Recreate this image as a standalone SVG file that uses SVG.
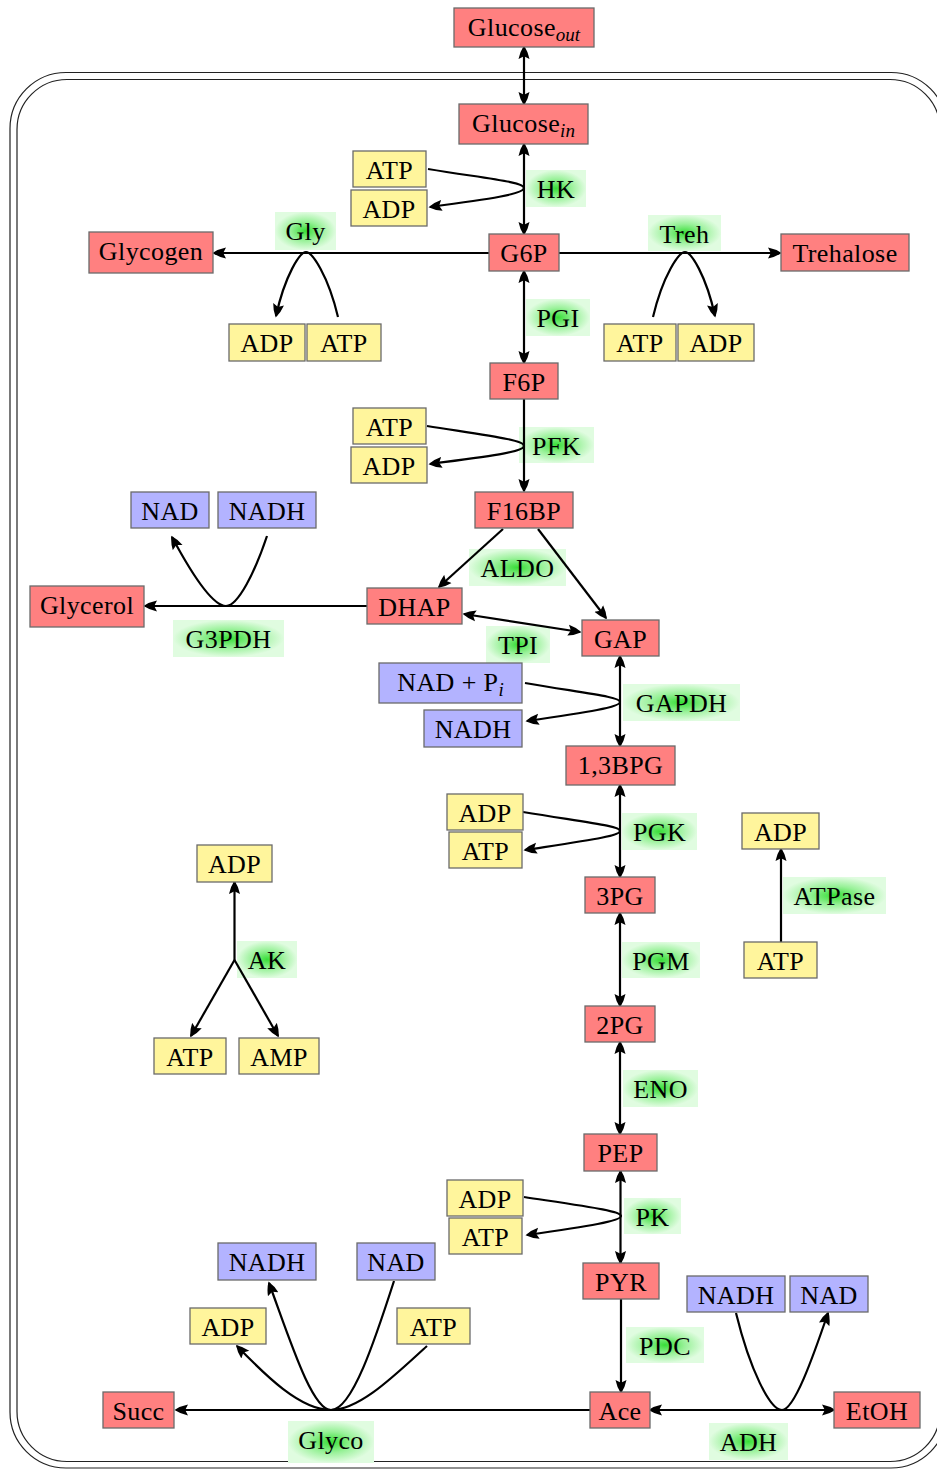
<svg xmlns="http://www.w3.org/2000/svg" width="937" height="1469" viewBox="0 0 937 1469">
<defs>
<radialGradient id="eg" cx="50%" cy="50%" r="50%">
<stop offset="0" stop-color="#38de38"/>
<stop offset="0.5" stop-color="#98f198"/>
<stop offset="1" stop-color="#e0fce0"/>
</radialGradient>
<marker id="ah" markerUnits="userSpaceOnUse" markerWidth="15" markerHeight="12" refX="12" refY="6" orient="auto-start-reverse" viewBox="0 0 15 12">
<path d="M0,0.5 Q7,1.8 13.5,6 Q7,10.2 0,11.5 L2.8,6 Z" fill="#000"/>
</marker>
</defs>
<style>
text{font-family:"Liberation Serif","Times New Roman",serif;font-size:26px;fill:#000;text-anchor:middle;letter-spacing:0.4px}
.r{fill:#ff8080;stroke:#6a6a6a;stroke-width:1.3}
.y{fill:#fff59c;stroke:#6a6a6a;stroke-width:1.3}
.b{fill:#b3b3ff;stroke:#6a6a6a;stroke-width:1.3}
.e{fill:url(#eg);stroke:none}
.c path{fill:none;stroke:#000;stroke-width:2.2}
.a2{marker-start:url(#ah);marker-end:url(#ah)}
.a1{marker-end:url(#ah)}
.sub{font-size:19px;font-style:italic;letter-spacing:0}
.frame{fill:none;stroke:#222;stroke-width:1.2}
</style>
<g id="frame">
<rect class="frame" x="10" y="72.5" width="937" height="1395.5" rx="56" ry="56"/>
<rect class="frame" x="17" y="79.5" width="923" height="1382" rx="50" ry="50"/>
</g>
<g id="enzymes">
<g id="e-hk"><rect class="e" x="526" y="170" width="60" height="37"/><text x="556" y="198">HK</text></g>
<g id="e-gly"><rect class="e" x="275" y="212" width="61" height="38"/><text x="305.5" y="240">Gly</text></g>
<g id="e-treh"><rect class="e" x="648" y="215" width="73" height="36"/><text x="684.5" y="243">Treh</text></g>
<g id="e-pgi"><rect class="e" x="526" y="299" width="64" height="37"/><text x="558" y="327">PGI</text></g>
<g id="e-pfk"><rect class="e" x="519" y="427" width="75" height="36"/><text x="556.5" y="455">PFK</text></g>
<g id="e-aldo"><rect class="e" x="469" y="549" width="97" height="37"/><text x="517.5" y="577">ALDO</text></g>
<g id="e-g3pdh"><rect class="e" x="173" y="620" width="111" height="37"/><text x="228.5" y="648">G3PDH</text></g>
<g id="e-tpi"><rect class="e" x="486" y="626" width="64" height="37"/><text x="518" y="654">TPI</text></g>
<g id="e-gapdh"><rect class="e" x="623" y="684" width="117" height="37"/><text x="681.5" y="712">GAPDH</text></g>
<g id="e-pgk"><rect class="e" x="622" y="813" width="75" height="37"/><text x="659.5" y="841">PGK</text></g>
<g id="e-atpase"><rect class="e" x="783" y="877" width="103" height="37"/><text x="834.5" y="905">ATPase</text></g>
<g id="e-pgm"><rect class="e" x="622" y="942" width="78" height="36"/><text x="661" y="970">PGM</text></g>
<g id="e-ak"><rect class="e" x="237" y="941" width="60" height="37"/><text x="267" y="969">AK</text></g>
<g id="e-eno"><rect class="e" x="623" y="1070" width="75" height="37"/><text x="660.5" y="1098">ENO</text></g>
<g id="e-pk"><rect class="e" x="624" y="1198" width="57" height="36"/><text x="652.5" y="1226">PK</text></g>
<g id="e-pdc"><rect class="e" x="626" y="1327" width="78" height="36"/><text x="665" y="1355">PDC</text></g>
<g id="e-glyco"><rect class="e" x="288" y="1421" width="86" height="42"/><text x="331" y="1449">Glyco</text></g>
<g id="e-adh"><rect class="e" x="709" y="1423" width="79" height="37"/><text x="748.5" y="1451">ADH</text></g>
</g>
<g id="connectors" class="c">
<path class="a2" d="M524,47 L524,104"/>
<path class="a2" d="M524,144 L524,234"/>
<path class="a1" d="M428,169 C 490,179 524,182 524,188 C 524,194 490,199 430,207"/>
<path class="a2" d="M524,271 L524,363"/>
<path class="a1" d="M489,253 L214,253"/>
<path class="a1" d="M338,317 C 328,275 312,252 306,252 C 300,252 285,275 276,316"/>
<path class="a1" d="M559,253 L780,253"/>
<path class="a1" d="M653,317 C 663,275 679,252 685,252 C 691,252 706,275 715,316"/>
<path class="a1" d="M524,399 L524,491"/>
<path class="a1" d="M427,426 C 490,436 524,440 524,446 C 524,452 490,456 430,464"/>
<path class="a1" d="M503,529 L439,587"/>
<path class="a1" d="M538,529 L606,618"/>
<path class="a2" d="M464,614 L580,632"/>
<path class="a1" d="M367,606 L145,606"/>
<path class="a1" d="M267,536 C 255,572 238,606 226,606 C 214,606 195,580 172,537"/>
<path class="a2" d="M620,656 L620,746"/>
<path class="a1" d="M525,683 C 590,694 620,697 620,702 C 620,707 590,712 527,721"/>
<path class="a2" d="M620,785 L620,877"/>
<path class="a1" d="M523,812 C 590,823 620,826 620,831 C 620,836 590,840 525,850"/>
<path class="a1" d="M781,942 L781,849"/>
<path class="a1" d="M234.5,960 L234.5,882"/>
<path class="a1" d="M234.5,960 L191,1036"/>
<path class="a1" d="M234.5,960 L278,1036"/>
<path class="a2" d="M620,913 L620,1006"/>
<path class="a2" d="M620,1042 L620,1134"/>
<path class="a2" d="M620.5,1171 L620.5,1263"/>
<path class="a1" d="M524,1197 C 590,1207 621,1211 621,1216 C 621,1221 590,1226 527,1235"/>
<path class="a1" d="M621,1299 L621,1392"/>
<path class="a1" d="M590,1410 L176,1410"/>
<path class="a1" d="M331,1410 C 300,1410 265,1375 237,1346"/>
<path class="a1" d="M331,1410 C 312,1410 290,1340 269,1283"/>
<path d="M394,1281 C 375,1340 352,1410 331,1410"/>
<path d="M427,1346 C 395,1375 360,1410 331,1410"/>
<path class="a2" d="M650,1410 L834,1410"/>
<path class="a1" d="M736,1313 C 750,1370 770,1410 782,1410 C 794,1410 812,1360 828,1313"/>
</g>
<g id="nodes">
<g id="glucose-out"><rect class="r" x="454" y="8" width="140" height="39"/><text x="524" y="36">Glucose<tspan class="sub" dy="5">out</tspan></text></g>
<g id="glucose-in"><rect class="r" x="459" y="104" width="129" height="40"/><text x="523.5" y="132">Glucose<tspan class="sub" dy="5">in</tspan></text></g>
<g id="hk-atp"><rect class="y" x="353" y="151" width="73" height="36"/><text x="389.5" y="179">ATP</text></g>
<g id="hk-adp"><rect class="y" x="351" y="190" width="76" height="36"/><text x="389" y="218">ADP</text></g>
<g id="g6p"><rect class="r" x="489" y="234" width="70" height="37"/><text x="524" y="262">G6P</text></g>
<g id="glycogen"><rect class="r" x="89" y="232" width="124" height="41"/><text x="151" y="260">Glycogen</text></g>
<g id="trehalose"><rect class="r" x="781" y="234" width="128" height="37"/><text x="845" y="262">Trehalose</text></g>
<g id="gly-adp"><rect class="y" x="229" y="324" width="76" height="37"/><text x="267" y="352">ADP</text></g>
<g id="gly-atp"><rect class="y" x="307" y="324" width="74" height="37"/><text x="344" y="352">ATP</text></g>
<g id="treh-atp"><rect class="y" x="604" y="324" width="72" height="37"/><text x="640" y="352">ATP</text></g>
<g id="treh-adp"><rect class="y" x="678" y="324" width="76" height="37"/><text x="716" y="352">ADP</text></g>
<g id="f6p"><rect class="r" x="490" y="363" width="68" height="36"/><text x="524" y="391">F6P</text></g>
<g id="pfk-atp"><rect class="y" x="353" y="408" width="73" height="36"/><text x="389.5" y="436">ATP</text></g>
<g id="pfk-adp"><rect class="y" x="351" y="447" width="76" height="36"/><text x="389" y="475">ADP</text></g>
<g id="f16bp"><rect class="r" x="475" y="492" width="98" height="36"/><text x="524" y="520">F16BP</text></g>
<g id="g3-nad"><rect class="b" x="131" y="492" width="78" height="36"/><text x="170" y="520">NAD</text></g>
<g id="g3-nadh"><rect class="b" x="218" y="492" width="98" height="36"/><text x="267" y="520">NADH</text></g>
<g id="glycerol"><rect class="r" x="30" y="586" width="114" height="41"/><text x="87" y="614">Glycerol</text></g>
<g id="dhap"><rect class="r" x="367" y="588" width="95" height="36"/><text x="414.5" y="616">DHAP</text></g>
<g id="gap"><rect class="r" x="582" y="620" width="77" height="36"/><text x="620.5" y="648">GAP</text></g>
<g id="nad-pi"><rect class="b" x="379" y="663" width="143" height="40"/><text x="450.5" y="691">NAD + P<tspan class="sub" dy="5">i</tspan></text></g>
<g id="gapdh-nadh"><rect class="b" x="424" y="710" width="98" height="37"/><text x="473" y="738">NADH</text></g>
<g id="bpg13"><rect class="r" x="566" y="746" width="109" height="39"/><text x="620.5" y="774">1,3BPG</text></g>
<g id="pgk-adp"><rect class="y" x="447" y="794" width="76" height="36"/><text x="485" y="822">ADP</text></g>
<g id="pgk-atp"><rect class="y" x="449" y="832" width="73" height="36"/><text x="485.5" y="860">ATP</text></g>
<g id="pg3"><rect class="r" x="585" y="877" width="70" height="36"/><text x="620" y="905">3PG</text></g>
<g id="atpase-adp"><rect class="y" x="742" y="813" width="77" height="36"/><text x="780.5" y="841">ADP</text></g>
<g id="atpase-atp"><rect class="y" x="744" y="942" width="73" height="36"/><text x="780.5" y="970">ATP</text></g>
<g id="ak-adp"><rect class="y" x="197" y="845" width="75" height="37"/><text x="234.5" y="873">ADP</text></g>
<g id="ak-atp"><rect class="y" x="154" y="1038" width="72" height="36"/><text x="190" y="1066">ATP</text></g>
<g id="ak-amp"><rect class="y" x="239" y="1038" width="80" height="36"/><text x="279" y="1066">AMP</text></g>
<g id="pg2"><rect class="r" x="585" y="1006" width="70" height="36"/><text x="620" y="1034">2PG</text></g>
<g id="pep"><rect class="r" x="584" y="1134" width="73" height="37"/><text x="620.5" y="1162">PEP</text></g>
<g id="pk-adp"><rect class="y" x="447" y="1180" width="76" height="36"/><text x="485" y="1208">ADP</text></g>
<g id="pk-atp"><rect class="y" x="449" y="1218" width="73" height="36"/><text x="485.5" y="1246">ATP</text></g>
<g id="pyr"><rect class="r" x="583" y="1263" width="76" height="36"/><text x="621" y="1291">PYR</text></g>
<g id="adh-nadh"><rect class="b" x="687" y="1276" width="98" height="36"/><text x="736" y="1304">NADH</text></g>
<g id="adh-nad"><rect class="b" x="790" y="1276" width="78" height="36"/><text x="829" y="1304">NAD</text></g>
<g id="ace"><rect class="r" x="590" y="1392" width="60" height="36"/><text x="620" y="1420">Ace</text></g>
<g id="etoh"><rect class="r" x="834" y="1392" width="86" height="36"/><text x="877" y="1420">EtOH</text></g>
<g id="succ"><rect class="r" x="103" y="1392" width="71" height="36"/><text x="138.5" y="1420">Succ</text></g>
<g id="gl-nadh"><rect class="b" x="218" y="1243" width="98" height="37"/><text x="267" y="1271">NADH</text></g>
<g id="gl-nad"><rect class="b" x="357" y="1243" width="78" height="37"/><text x="396" y="1271">NAD</text></g>
<g id="gl-adp"><rect class="y" x="190" y="1308" width="76" height="36"/><text x="228" y="1336">ADP</text></g>
<g id="gl-atp"><rect class="y" x="397" y="1308" width="73" height="36"/><text x="433.5" y="1336">ATP</text></g>
</g>
</svg>
